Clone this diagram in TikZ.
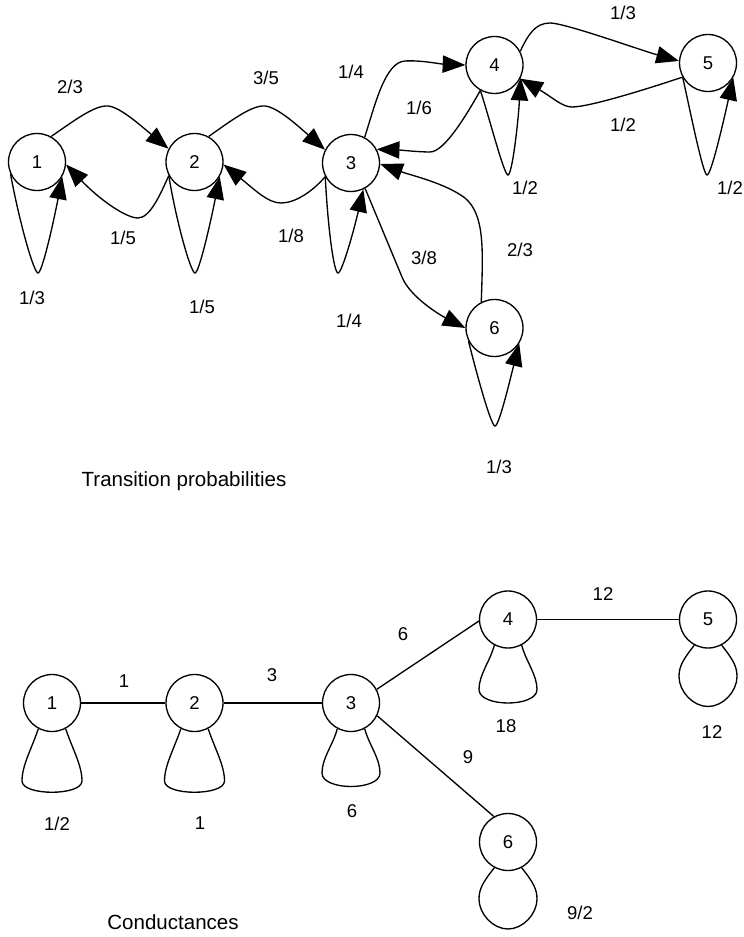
\documentclass[tikz,border=0pt]{standalone}
\usepackage{fontspec}
\setmainfont{Liberation Sans}
\usetikzlibrary{arrows.meta}
\newcommand{\labfont}{\fontsize{13.9pt}{16pt}\selectfont}
\newcommand{\titfont}{\fontsize{15.4pt}{18pt}\selectfont}
\newcommand{\bellA}[1]{\draw[con,shift={(#1.center)}] (#1.-118) .. controls (-20,45) and (-30,62) .. (-30,78) .. controls (-30,93) and (30,93) .. (30,78) .. controls (30,62) and (20,45) .. (#1.-62);}
\newcommand{\bellB}[1]{\draw[con,shift={(#1.center)}] (#1.-118) .. controls (-18,42) and (-29,55) .. (-29,70) .. controls (-29,88) and (29,88) .. (29,70) .. controls (29,55) and (18,42) .. (#1.-62);}
\newcommand{\bellC}[1]{\draw[con,shift={(#1.center)}] (#1.-118) .. controls (-25,40) and (-29,47) .. (-29,57) .. controls (-29,72) and (-15,87) .. (0,87) .. controls (15,87) and (29,72) .. (29,57) .. controls (29,47) and (25,40) .. (#1.-62);}
\begin{document}
\begin{tikzpicture}[x=0.75pt,y=-0.75pt,
  stnode/.style={circle,draw,line width=1pt,minimum size=42.75pt,inner sep=0pt,font=\labfont},
  lbl/.style={font=\labfont,inner sep=0pt},
  ttl/.style={font=\titfont,inner sep=0pt},
  arr/.style={line width=1pt,-{Triangle[length=17pt,width=13pt]}},
  con/.style={line width=1pt}]
\useasboundingbox (0,0) rectangle (743,937);
% ---------- transition probabilities ----------
\node[stnode] (t1) at (37,162) {1};
\node[stnode] (t2) at (194.5,162) {2};
\node[stnode] (t3) at (351,163) {3};
\node[stnode] (t4) at (494.5,65) {4};
\node[stnode] (t5) at (708,63) {5};
\node[stnode] (t6) at (494.5,328) {6};
% forward / backward edges
\draw[arr] (t1.61) .. controls (75,120) and (95,105) .. (108,106) .. controls (120,107) and (140,125) .. (t2.153);
\draw[arr] (t2.61) .. controls (232,120) and (252,105) .. (265,106) .. controls (277,107) and (297,125) .. (t3.153);
\draw[arr] (t2.208) .. controls (160,195) and (150,218) .. (138,218) .. controls (126,218) and (100,200) .. (t1.-5);
\draw[arr] (t3.208) .. controls (312,192) and (295,203) .. (281,203) .. controls (268,203) and (255,190) .. (t2.-5);
\draw[arr] (t3.62) .. controls (375,105) and (385,62) .. (405,61) .. controls (420,60) and (440,64) .. (t4.180);
\draw[arr] (t4.-119) .. controls (468,112) and (445,152) .. (430,152) .. controls (418,152) and (400,150) .. (t3.28);
\draw[arr] (t4.28) .. controls (528,35) and (535,23) .. (550,23) .. controls (565,23) and (640,50) .. (t5.176);
\draw[arr] (t5.209) .. controls (650,88) and (590,107) .. (572,107) .. controls (562,107) and (552,97) .. (t4.-28);
\draw[arr] (t3.-61) -- (402,277) .. controls (410,297) and (440,315) .. (t6.180);
\draw[arr] (t6.117) .. controls (483,250) and (485,215) .. (465,198) .. controls (445,183) and (410,175) .. (t3.-2);
% self loops
\draw[arr] (t1.205) .. controls (20,225) and (34,273) .. (38,273) .. controls (42,273) and (53,225) .. (t1.-30);
\draw[arr] (t2.208) .. controls (177,225) and (191,273) .. (195,273) .. controls (199,273) and (210,225) .. (t2.-30);
\draw[arr] (t3.208) .. controls (328,230) and (334,273) .. (338,273) .. controls (342,273) and (354,230) .. (t3.-65);
\draw[arr] (t4.-119) .. controls (490,120) and (504,175) .. (508,175) .. controls (512,175) and (518,125) .. (t4.-26);
\draw[arr] (t5.210) .. controls (690,110) and (703,175) .. (707,175) .. controls (711,175) and (722,128) .. (t5.-30);
\draw[arr] (t6.207) .. controls (477,375) and (491,426) .. (495,426) .. controls (499,426) and (510,380) .. (t6.-32);
% labels
\node[lbl] at (70,87) {2/3};
\node[lbl] at (266,78) {3/5};
\node[lbl] at (123,238) {1/5};
\node[lbl] at (291,236) {1/8};
\node[lbl] at (32,298) {1/3};
\node[lbl] at (202,307) {1/5};
\node[lbl] at (349,321) {1/4};
\node[lbl] at (351,72) {1/4};
\node[lbl] at (419,108) {1/6};
\node[lbl] at (525,188) {1/2};
\node[lbl] at (623,13) {1/3};
\node[lbl] at (623,125) {1/2};
\node[lbl] at (730,188) {1/2};
\node[lbl] at (424,258) {3/8};
\node[lbl] at (520,250) {2/3};
\node[lbl] at (499,467) {1/3};
\node[ttl] at (184,481) {Transition probabilities};
% ---------- conductances ----------
\node[stnode] (b1) at (52,703) {1};
\node[stnode] (b2) at (194.5,703) {2};
\node[stnode] (b3) at (351,703) {3};
\node[stnode] (b4) at (508,619.5) {4};
\node[stnode] (b5) at (708,619.5) {5};
\node[stnode] (b6) at (508,842) {6};
\draw[con] (b1) -- (b2);
\draw[con] (b2) -- (b3);
\draw[con] (b3.28) -- (b4.183);
\draw[con] (b3.-26) -- (b6.119);
\draw[con] (b4) -- (b5);
\bellA{b1}
\bellA{b2}
\bellB{b3}
\bellB{b4}
\bellC{b5}
\bellC{b6}
\node[lbl] at (124,681) {1};
\node[lbl] at (272,675) {3};
\node[lbl] at (403,634) {6};
\node[lbl] at (603,594) {12};
\node[lbl] at (468,757) {9};
\node[lbl] at (57,824) {1/2};
\node[lbl] at (200,823) {1};
\node[lbl] at (352,811) {6};
\node[lbl] at (506,726) {18};
\node[lbl] at (712,732) {12};
\node[lbl] at (580,913) {9/2};
\node[ttl] at (173,922) {Conductances};
\end{tikzpicture}
\end{document}
